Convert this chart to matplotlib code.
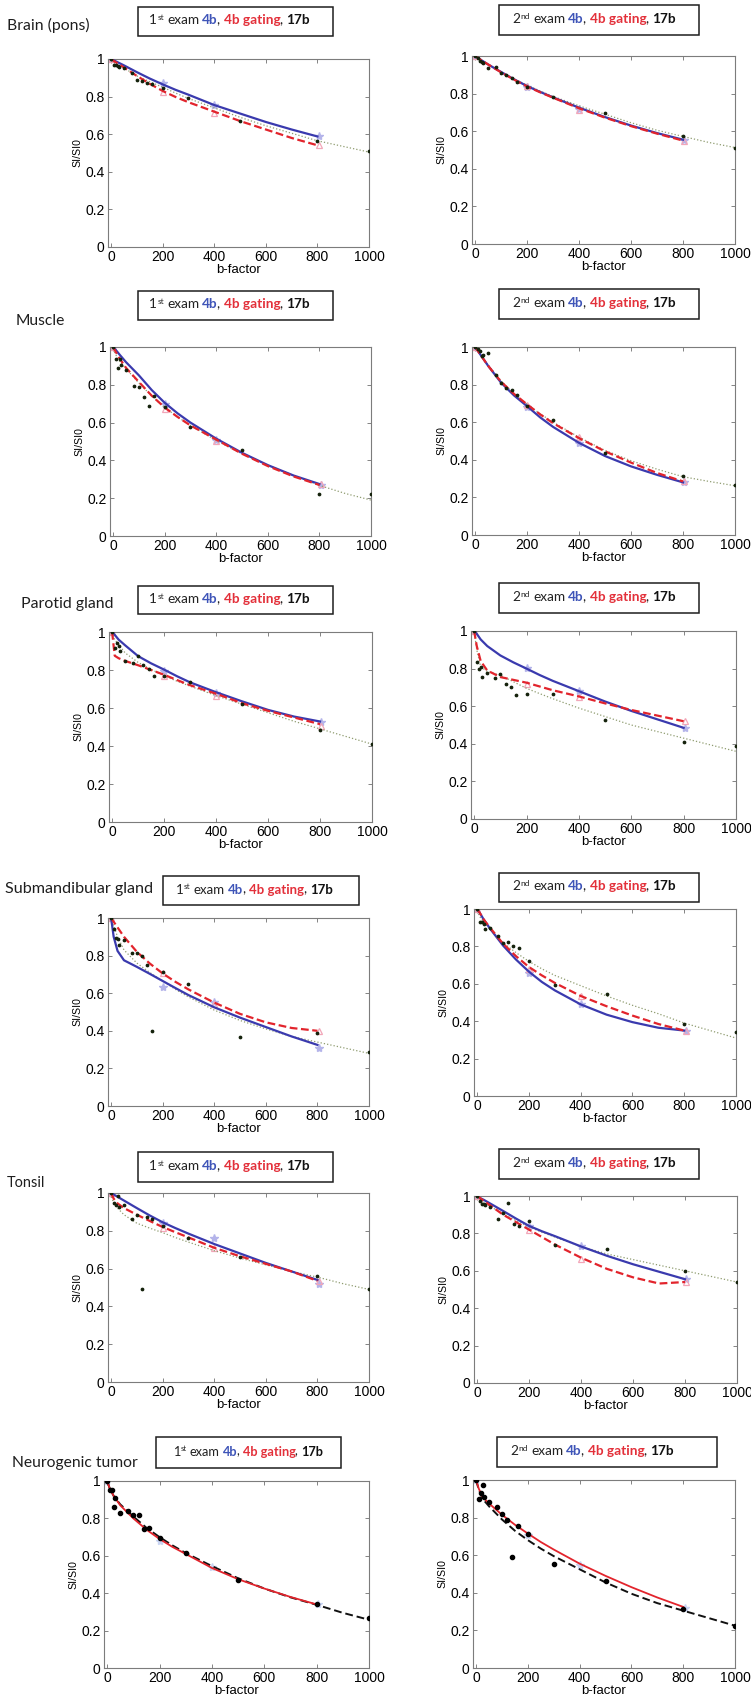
#!/usr/bin/env python3
"""
IVIM decay curves (SI/SI0 vs b-factor) for six head & neck tissues,
1st and 2nd exam: 4b fit, 4b gating fit and 17b fit/data.
"""

import matplotlib
matplotlib.use("Agg")
import matplotlib.pyplot as plt
from matplotlib.patches import Rectangle

W, H = 751, 1707

# ---- data ------------------------------------------------------------------
B_FIT = [0, 10, 25, 50, 100, 150, 200, 250, 300, 400, 500, 600, 700, 800]
B_FIT17 = [0, 10, 25, 50, 100, 150, 200, 250, 300, 400, 500, 600, 700, 800, 900, 1000]
B_DOTS = [0, 10, 20, 25, 30, 50, 80, 100, 120, 140, 160, 200, 300, 500, 800, 1000]
B_MARK = [0, 200, 400, 805]

TISSUES = ["Brain (pons)", "Muscle", "Parotid gland", "Submandibular gland",
           "Tonsil", "Neurogenic tumor"]

# Brain (pons)
BRAIN1_4B = [1.0, 0.993, 0.983, 0.966, 0.93, 0.896, 0.865, 0.836, 0.81, 0.755, 0.71, 0.665, 0.625, 0.588]
BRAIN1_GATE = [1.0, 0.99, 0.977, 0.955, 0.91, 0.868, 0.83, 0.798, 0.77, 0.72, 0.67, 0.625, 0.58, 0.541]
BRAIN1_17FIT = [0.99, 0.982, 0.97, 0.952, 0.91, 0.879, 0.85, 0.819, 0.79, 0.74, 0.69, 0.645, 0.605, 0.565, 0.535, 0.505]
BRAIN1_17B = [1.0, 0.968, 0.966, 0.965, 0.96, 0.952, 0.925, 0.89, 0.885, 0.875, 0.868, 0.845, 0.79, 0.67, 0.565, 0.508]
BRAIN1_M4B = [1.0, 0.87, 0.755, 0.59]
BRAIN1_MGATE = [1.0, 0.825, 0.715, 0.54]

BRAIN2_4B = [1.0, 0.99, 0.977, 0.955, 0.915, 0.876, 0.84, 0.809, 0.78, 0.725, 0.675, 0.63, 0.59, 0.555]
BRAIN2_GATE = [1.0, 0.99, 0.977, 0.955, 0.913, 0.874, 0.838, 0.807, 0.778, 0.722, 0.672, 0.627, 0.587, 0.55]
BRAIN2_17FIT = [1.0, 0.99, 0.975, 0.955, 0.915, 0.879, 0.845, 0.814, 0.785, 0.735, 0.69, 0.645, 0.605, 0.572, 0.54, 0.513]
BRAIN2_17B = [1.0, 0.99, 0.975, 0.97, 0.965, 0.935, 0.943, 0.908, 0.90, 0.885, 0.862, 0.835, 0.784, 0.696, 0.572, 0.513]
BRAIN2_M4B = [1.0, 0.835, 0.72, 0.555]
BRAIN2_MGATE = [1.0, 0.84, 0.715, 0.55]

# Muscle
MUSCLE1_4B = [1.0, 0.985, 0.96, 0.92, 0.85, 0.772, 0.705, 0.649, 0.6, 0.515, 0.44, 0.375, 0.32, 0.275]
MUSCLE1_GATE = [1.0, 0.975, 0.94, 0.89, 0.815, 0.742, 0.68, 0.63, 0.585, 0.51, 0.435, 0.37, 0.315, 0.27]
MUSCLE1_17FIT = [0.99, 0.96, 0.925, 0.885, 0.81, 0.74, 0.68, 0.63, 0.585, 0.505, 0.435, 0.375, 0.32, 0.268, 0.225, 0.19]
MUSCLE1_17B = [1.0, 0.936, 0.889, 0.936, 0.906, 0.88, 0.795, 0.79, 0.738, 0.688, 0.74, 0.68, 0.578, 0.455, 0.22, 0.22]
MUSCLE1_M4B = [1.0, 0.70, 0.51, 0.27]
MUSCLE1_MGATE = [1.0, 0.67, 0.505, 0.275]

MUSCLE2_4B = [1.0, 0.98, 0.95, 0.9, 0.81, 0.742, 0.685, 0.626, 0.575, 0.49, 0.42, 0.365, 0.32, 0.28]
MUSCLE2_GATE = [1.0, 0.98, 0.95, 0.9, 0.815, 0.75, 0.695, 0.642, 0.595, 0.515, 0.445, 0.385, 0.33, 0.285]
MUSCLE2_17FIT = [1.0, 0.98, 0.95, 0.905, 0.82, 0.752, 0.695, 0.645, 0.6, 0.52, 0.45, 0.395, 0.35, 0.31, 0.285, 0.262]
MUSCLE2_17B = [1.0, 0.99, 0.977, 0.954, 0.96, 0.97, 0.853, 0.81, 0.78, 0.77, 0.745, 0.685, 0.61, 0.434, 0.313, 0.264]
MUSCLE2_M4B = [1.0, 0.68, 0.49, 0.28]
MUSCLE2_MGATE = [1.0, 0.69, 0.52, 0.285]

# Parotid gland
PAROTID1_4B = [1.0, 0.985, 0.96, 0.93, 0.873, 0.835, 0.802, 0.767, 0.735, 0.683, 0.635, 0.59, 0.555, 0.529]
PAROTID1_GATE = [1.0, 0.875, 0.862, 0.848, 0.825, 0.80, 0.775, 0.747, 0.72, 0.675, 0.625, 0.585, 0.55, 0.515]
PAROTID1_17FIT = [1.0, 0.96, 0.935, 0.89, 0.84, 0.803, 0.77, 0.741, 0.715, 0.665, 0.62, 0.575, 0.53, 0.49, 0.45, 0.41]
PAROTID1_17B = [1.0, 0.917, 0.94, 0.925, 0.9, 0.847, 0.838, 0.873, 0.824, 0.806, 0.771, 0.768, 0.735, 0.623, 0.485, 0.409]
PAROTID1_M4B = [1.0, 0.795, 0.68, 0.525]
PAROTID1_MGATE = [1.0, 0.77, 0.665, 0.505]

PAROTID2_4B = [1.0, 0.985, 0.955, 0.92, 0.87, 0.833, 0.80, 0.766, 0.735, 0.68, 0.625, 0.575, 0.53, 0.485]
PAROTID2_GATE = [1.0, 0.92, 0.84, 0.79, 0.755, 0.74, 0.725, 0.705, 0.685, 0.652, 0.615, 0.58, 0.55, 0.52]
PAROTID2_17FIT = [1.0, 0.9, 0.81, 0.785, 0.765, 0.73, 0.695, 0.667, 0.64, 0.59, 0.545, 0.5, 0.465, 0.43, 0.395, 0.36]
PAROTID2_17B = [1.0, 0.837, 0.8, 0.81, 0.757, 0.779, 0.749, 0.77, 0.718, 0.701, 0.66, 0.664, 0.664, 0.526, 0.412, 0.386]
PAROTID2_M4B = [1.0, 0.805, 0.68, 0.485]
PAROTID2_MGATE = [1.0, 0.72, 0.65, 0.52]

# Submandibular gland
SUBMAND1_4B = [1.0, 0.9, 0.825, 0.775, 0.74, 0.703, 0.665, 0.627, 0.59, 0.525, 0.47, 0.42, 0.37, 0.325]
SUBMAND1_GATE = [1.0, 0.98, 0.95, 0.9, 0.82, 0.758, 0.705, 0.66, 0.62, 0.55, 0.49, 0.445, 0.415, 0.4]
SUBMAND1_17FIT = [1.0, 0.96, 0.9, 0.83, 0.76, 0.71, 0.665, 0.62, 0.58, 0.51, 0.455, 0.41, 0.37, 0.34, 0.31, 0.28]
SUBMAND1_17B = [1.0, 0.942, 0.896, 0.89, 0.855, 0.885, 0.816, 0.814, 0.798, 0.752, 0.398, 0.713, 0.648, 0.368, 0.389, 0.285]
SUBMAND1_M4B = [1.0, 0.635, 0.555, 0.31]
SUBMAND1_MGATE = [1.0, 0.71, 0.545, 0.4]

SUBMAND2_4B = [1.0, 0.98, 0.945, 0.895, 0.805, 0.73, 0.665, 0.61, 0.565, 0.49, 0.435, 0.395, 0.365, 0.35]
SUBMAND2_GATE = [1.0, 0.98, 0.945, 0.9, 0.815, 0.748, 0.69, 0.645, 0.605, 0.535, 0.48, 0.43, 0.385, 0.35]
SUBMAND2_17FIT = [0.99, 0.96, 0.93, 0.89, 0.82, 0.767, 0.72, 0.68, 0.645, 0.59, 0.535, 0.485, 0.44, 0.39, 0.35, 0.31]
SUBMAND2_17B = [1.0, 0.932, 0.932, 0.918, 0.893, 0.9, 0.857, 0.82, 0.825, 0.804, 0.793, 0.721, 0.596, 0.543, 0.387, 0.343]
SUBMAND2_M4B = [1.0, 0.66, 0.49, 0.35]
SUBMAND2_MGATE = [1.0, 0.68, 0.535, 0.35]

# Tonsil
TONSIL1_4B = [1.0, 0.992, 0.98, 0.96, 0.92, 0.881, 0.845, 0.814, 0.785, 0.73, 0.68, 0.63, 0.585, 0.54]
TONSIL1_GATE = [1.0, 0.97, 0.945, 0.92, 0.885, 0.852, 0.82, 0.792, 0.765, 0.71, 0.665, 0.625, 0.585, 0.535]
TONSIL1_17FIT = [0.98, 0.95, 0.92, 0.885, 0.84, 0.814, 0.79, 0.764, 0.74, 0.695, 0.655, 0.62, 0.585, 0.555, 0.52, 0.49]
TONSIL1_17B = [1.0, 0.947, 0.935, 0.982, 0.925, 0.935, 0.86, 0.882, 0.491, 0.872, 0.86, 0.825, 0.76, 0.663, 0.56, 0.49]
TONSIL1_M4B = [1.0, 0.84, 0.76, 0.52]
TONSIL1_MGATE = [1.0, 0.815, 0.71, 0.535]

TONSIL2_4B = [1.0, 0.99, 0.98, 0.96, 0.92, 0.879, 0.84, 0.811, 0.785, 0.73, 0.68, 0.635, 0.595, 0.555]
TONSIL2_GATE = [1.0, 0.99, 0.975, 0.95, 0.9, 0.86, 0.82, 0.78, 0.74, 0.67, 0.61, 0.565, 0.532, 0.54]
TONSIL2_17FIT = [0.99, 0.98, 0.965, 0.945, 0.905, 0.868, 0.835, 0.806, 0.78, 0.73, 0.69, 0.66, 0.63, 0.6, 0.57, 0.54]
TONSIL2_17B = [1.0, 0.973, 0.959, 0.955, 0.95, 0.94, 0.879, 0.91, 0.964, 0.849, 0.84, 0.865, 0.737, 0.714, 0.599, 0.542]
TONSIL2_M4B = [1.0, 0.84, 0.73, 0.555]
TONSIL2_MGATE = [1.0, 0.82, 0.665, 0.54]

# Neurogenic tumor
TUMOR1_GATE = [1.0, 0.96, 0.92, 0.87, 0.8, 0.74, 0.69, 0.647, 0.61, 0.535, 0.475, 0.425, 0.38, 0.34]
TUMOR1_17FIT = [1.0, 0.96, 0.92, 0.875, 0.81, 0.75, 0.7, 0.655, 0.615, 0.545, 0.48, 0.425, 0.378, 0.338, 0.295, 0.258]
TUMOR1_17B = [1.0, 0.95, 0.954, 0.861, 0.909, 0.831, 0.838, 0.817, 0.817, 0.742, 0.751, 0.696, 0.613, 0.471, 0.341, 0.266]
TUMOR1_M4B = [1.0, 0.68, 0.54, 0.34]

TUMOR2_GATE = [1.0, 0.955, 0.91, 0.875, 0.815, 0.762, 0.715, 0.67, 0.63, 0.555, 0.49, 0.43, 0.375, 0.325]
TUMOR2_17FIT = [1.0, 0.95, 0.9, 0.86, 0.79, 0.73, 0.68, 0.635, 0.595, 0.525, 0.455, 0.395, 0.345, 0.305, 0.265, 0.225]
TUMOR2_17B = [1.0, 0.899, 0.93, 0.973, 0.907, 0.884, 0.859, 0.818, 0.788, 0.593, 0.756, 0.715, 0.555, 0.463, 0.315, 0.222]
TUMOR2_M4B = [1.0, 0.71, 0.55, 0.32]

X_TICKS = [0, 200, 400, 600, 800, 1000]
Y_TICKS = [0, 0.2, 0.4, 0.6, 0.8, 1]
Y_TICKLABELS = ["0", "0.2", "0.4", "0.6", "0.8", "1"]

# panel table: (fit4b, gating, fit17b, data17b, marks4b, marksgating)
PANELS = [
    (BRAIN1_4B, BRAIN1_GATE, BRAIN1_17FIT, BRAIN1_17B, BRAIN1_M4B, BRAIN1_MGATE),
    (BRAIN2_4B, BRAIN2_GATE, BRAIN2_17FIT, BRAIN2_17B, BRAIN2_M4B, BRAIN2_MGATE),
    (MUSCLE1_4B, MUSCLE1_GATE, MUSCLE1_17FIT, MUSCLE1_17B, MUSCLE1_M4B, MUSCLE1_MGATE),
    (MUSCLE2_4B, MUSCLE2_GATE, MUSCLE2_17FIT, MUSCLE2_17B, MUSCLE2_M4B, MUSCLE2_MGATE),
    (PAROTID1_4B, PAROTID1_GATE, PAROTID1_17FIT, PAROTID1_17B, PAROTID1_M4B, PAROTID1_MGATE),
    (PAROTID2_4B, PAROTID2_GATE, PAROTID2_17FIT, PAROTID2_17B, PAROTID2_M4B, PAROTID2_MGATE),
    (SUBMAND1_4B, SUBMAND1_GATE, SUBMAND1_17FIT, SUBMAND1_17B, SUBMAND1_M4B, SUBMAND1_MGATE),
    (SUBMAND2_4B, SUBMAND2_GATE, SUBMAND2_17FIT, SUBMAND2_17B, SUBMAND2_M4B, SUBMAND2_MGATE),
    (TONSIL1_4B, TONSIL1_GATE, TONSIL1_17FIT, TONSIL1_17B, TONSIL1_M4B, TONSIL1_MGATE),
    (TONSIL2_4B, TONSIL2_GATE, TONSIL2_17FIT, TONSIL2_17B, TONSIL2_M4B, TONSIL2_MGATE),
    (None, TUMOR1_GATE, TUMOR1_17FIT, TUMOR1_17B, TUMOR1_M4B, None),
    (None, TUMOR2_GATE, TUMOR2_17FIT, TUMOR2_17B, TUMOR2_M4B, None),
]

# ---- layout (pixels in the 751x1707 image) ----------------------------------
AX_PX = [  # left, top, right, bottom
    (108, 59, 369, 247), (472, 56, 735, 244),
    (110, 347, 371, 536), (472, 347, 735, 535),
    (109, 632, 372, 822), (471, 631, 736, 819),
    (108, 918, 369, 1106), (474, 909, 736, 1096),
    (108, 1193, 369, 1382), (474, 1196, 737, 1383),
    (104, 1481, 369, 1668), (473, 1480, 735, 1668),
]
BOX_PX = [  # x0, y0, x1, y1
    (138, 7, 333, 36), (499, 5, 699, 35),
    (138, 291, 333, 320), (499, 289, 699, 319),
    (138, 586, 333, 614), (499, 583, 699, 613),
    (163, 876, 359, 905), (499, 873, 699, 902),
    (138, 1152, 333, 1182), (499, 1149, 699, 1179),
    (156, 1437, 341, 1468), (497, 1437, 717, 1467),
]
BOX_TEXT_PX = [  # text start x, text width
    (149, 161), (512, 163), (149, 161), (512, 163), (149, 161), (512, 163),
    (176, 157), (512, 163), (149, 161), (512, 163), (173, 150), (510, 163),
]
LABEL_PX = [(7, 25), (16, 321), (21, 604), (5, 889), (7, 1183), (12, 1463)]
LABEL_W = [82, 49, 92, 148, 38, 125]

BLUE = "#3a3aae"
RED = "#e2242c"
DOT17 = "#8f9c70"
DARK = "#15220c"
TXT_BLUE = "#3f55b8"
TXT_RED = "#e3303a"
BOX_FONT = "Lato"
TICK_FONT = "Liberation Sans"


def rich_title(ax0, box, tx, first):
    """Boxed '1st exam 4b, 4b gating, 17b' with coloured parts."""
    x0, y0, x1, y1 = box
    ax0.add_patch(Rectangle((x0, y0), x1 - x0, y1 - y0, fill=False,
                            lw=1.1, ec="#1e1e1e"))
    fs = 9.0
    sp = fs * 0.24
    num, sup = ("1", "st") if first else ("2", "nd")
    t = ax0.text(tx, (y0 + y1) / 2 + 5, num, fontsize=fs,
                 family=BOX_FONT, color="#222222", va="bottom")
    texts = [t]
    # the comma ink sits right of its origin, so pull it left and
    # leave a bit more room after it
    parts = [
        (sup, 0.62, "normal", "#222222", 0.3, 3.8),
        ("exam", 1, "normal", "#222222", sp, -3.8),
        ("4b", 1, "bold", TXT_BLUE, sp, 0),
        (",", 1, "normal", "#222222", -0.9, 0),
        ("4b gating", 1, "bold", TXT_RED, sp + 0.8, 0),
        (",", 1, "normal", "#222222", -0.9, 0),
        ("17b", 1, "bold", "#111111", sp + 0.8, 0),
    ]
    for s, rel, weight, color, dx, dy in parts:
        t = ax0.annotate(s, xy=(1, 0), xycoords=t, xytext=(dx, dy),
                         textcoords="offset points", fontsize=fs * rel,
                         fontweight=weight, color=color, family=BOX_FONT,
                         va="bottom", ha="left")
        texts.append(t)
    return texts


def fit_width(texts, target, renderer):
    """Scale font sizes so that the chain of texts spans `target` pixels."""
    for _ in range(2):
        left = texts[0].get_window_extent(renderer).x0
        right = texts[-1].get_window_extent(renderer).x1
        k = target / max(right - left, 1)
        for t in texts:
            t.set_fontsize(t.get_fontsize() * k)


def draw_panel(ax, fit4b, gate, fit17, data17, m4b, mgate, tumor):
    if tumor:
        ax.plot(B_MARK, m4b, linestyle="none", marker="*", ms=6,
                color="#c8d4f2", zorder=2)
        ax.plot(B_FIT17, fit17, color="#111111", lw=1.4, dashes=(4, 2), zorder=3)
        ax.plot(B_FIT, gate, color=RED, lw=1.3, zorder=4)
        ax.plot(B_DOTS, data17, linestyle="none", marker="o", ms=3.0,
                color="#000000", zorder=5)
    else:
        ax.plot(B_MARK, m4b, linestyle="none", marker="*", ms=6,
                color="#b4b4ea", zorder=2)
        ax.plot(B_MARK, mgate, linestyle="none", marker="^", ms=5,
                mfc="none", mec="#f2a6b8", mew=0.9, zorder=2)
        ax.plot(B_FIT17, fit17, color=DOT17, lw=0.9, linestyle=":", zorder=3)
        ax.plot(B_FIT, fit4b, color=BLUE, lw=1.6, zorder=4)
        ax.plot(B_FIT, gate, color=RED, lw=1.6, dashes=(3.5, 1.6), zorder=5)
        ax.plot(B_DOTS, data17, linestyle="none", marker="o", ms=1.7,
                color=DARK, zorder=6)

    ax.set_xlim(-12, 1000)
    ax.set_ylim(0, 1)
    ax.set_xticks(X_TICKS)
    ax.set_yticks(Y_TICKS)
    ax.set_yticklabels(Y_TICKLABELS)
    ax.tick_params(direction="in", length=3, width=0.6, color="#6f6f6f",
                   top=True, right=True, labelsize=10, pad=2.5)
    for lab in ax.get_xticklabels() + ax.get_yticklabels():
        lab.set_family(TICK_FONT)
    for sp in ax.spines.values():
        sp.set_color("#7c7c7c")
        sp.set_linewidth(0.8)
    ax.set_xlabel("b-factor", fontsize=9.5, family=TICK_FONT, labelpad=0)
    ax.set_ylabel("SI/SI0", fontsize=7.6, family=TICK_FONT, labelpad=2)


def main():
    fig = plt.figure(figsize=(W / 100, H / 100), dpi=100)
    fig.patch.set_facecolor("white")
    renderer = fig.canvas.get_renderer()

    # invisible full-figure axes in pixel coordinates for labels and boxes
    ax0 = fig.add_axes([0, 0, 1, 1])
    ax0.set_xlim(0, W)
    ax0.set_ylim(H, 0)
    ax0.axis("off")

    for i, (panel, px, box, (tx, tw)) in enumerate(
            zip(PANELS, AX_PX, BOX_PX, BOX_TEXT_PX)):
        l, t, r, b = px
        ax = fig.add_axes([l / W, 1 - b / H, (r - l) / W, (b - t) / H])
        draw_panel(ax, *panel, tumor=(i >= 10))
        texts = rich_title(ax0, box, tx, first=(i % 2 == 0))
        fit_width(texts, tw, renderer)

    for name, (x, y), w in zip(TISSUES, LABEL_PX, LABEL_W):
        lab = ax0.text(x, y, name, fontsize=10, family=BOX_FONT,
                       color="#1e1e1e", va="center", ha="left")
        fit_width([lab], w, renderer)

    fig.savefig("out.png", dpi=100)
    plt.close(fig)


if __name__ == "__main__":
    main()
